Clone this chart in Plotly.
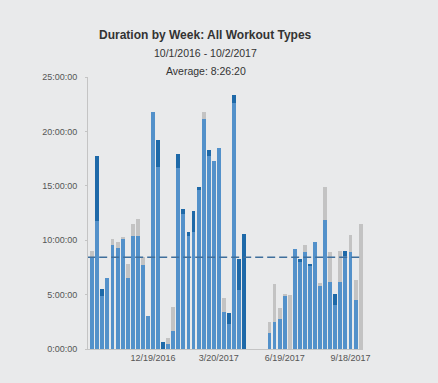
import plotly.graph_objects as go
import pandas as pd

# Week start dates (Mondays), 54 weeks
weeks = [d.strftime("%Y-%m-%d") for d in pd.date_range("2016-09-26", periods=54, freq="7D")]

# Hours per week, by segment
blue_hours = [8.5, 11.8, 4.9, 6.5, 9.6, 9.3, 10.1, 6.5, 10.4, 10.4,
              7.7, 3.0, 21.8, 16.7, 0.0, 0.5, 1.7, 16.6, 12.4, 10.4,
              10.8, 14.6, 21.1, 17.7, 17.25, 18.5, 3.4, 2.3, 22.6, 5.4,
              0.0, 0.0, 0.0, 0.0, 0.0, 1.5, 2.5, 2.8, 4.9, 0.0,
              9.2, 8.0, 8.9, 7.6, 9.8, 5.8, 11.9, 6.2, 4.0, 6.2,
              8.55, 8.9, 4.5, 0.0]
dark_hours = [0.0, 5.9, 0.6, 0.0, 0.0, 0.0, 0.0, 0.0, 0.0, 0.0,
              0.0, 0.0, 0.0, 2.5, 0.6, 0.0, 0.0, 1.3, 0.45, 0.4,
              1.9, 0.3, 0.0, 0.6, 0.0, 0.0, 0.0, 1.0, 0.75, 2.9,
              10.6, 0.0, 0.0, 0.0, 0.0, 0.0, 0.0, 0.0, 0.0, 0.0,
              0.0, 0.27, 0.0, 0.24, 0.0, 0.0, 0.0, 0.0, 1.1, 0.0,
              0.45, 0.0, 0.0, 0.0]
grey_hours = [0.5, 0.0, 0.0, 0.0, 0.55, 0.5, 0.2, 1.35, 1.05, 1.55,
              0.8, 0.0, 0.0, 0.0, 0.0, 0.5, 2.2, 0.0, 0.0, 0.0,
              0.0, 0.0, 0.7, 0.0, 0.0, 0.0, 1.3, 0.0, 0.0, 0.0,
              0.0, 0.0, 0.0, 0.0, 0.0, 1.0, 3.5, 1.0, 0.1, 5.0,
              0.0, 0.0, 0.65, 0.0, 0.0, 0.25, 2.95, 2.7, 0.0, 2.8,
              0.0, 1.6, 1.8, 11.5]

average_hours = 8 + 26 / 60 + 20 / 3600

y_tickvals = [0, 5, 10, 15, 20, 25]
y_ticktext = ["0:00:00", "5:00:00", "10:00:00", "15:00:00", "20:00:00", "25:00:00"]
x_tickvals = ["2016-12-19", "2017-03-20", "2017-06-19", "2017-09-18"]
x_ticktext = ["12/19/2016", "3/20/2017", "6/19/2017", "9/18/2017"]

FONT = "Liberation Sans, Arial, Helvetica, sans-serif"
BG = "#e9eaeb"
bar_width_ms = 5.4 * 24 * 3600 * 1000

fig = go.Figure()
for vals, color in [(blue_hours, "#5391ca"), (dark_hours, "#1e69a8"), (grey_hours, "#c3c3c3")]:
    fig.add_trace(go.Bar(x=weeks, y=vals, width=bar_width_ms,
                         marker=dict(color=color, line=dict(width=0)),
                         showlegend=False, hoverinfo="skip"))

fig.add_trace(go.Scatter(x=["2016-09-19", "2017-10-06"], y=[average_hours, average_hours],
                         mode="lines", line=dict(color="#3f6f9c", width=1.6, dash="8px,4px"),
                         showlegend=False, hoverinfo="skip"))

fig.update_layout(
    width=438, height=383,
    barmode="stack",
    paper_bgcolor=BG, plot_bgcolor=BG,
    margin=dict(l=88, r=75, t=77, b=34),
    font=dict(family=FONT, size=9, color="#555555"),
    annotations=[
        dict(text="<b>Duration by Week: All Workout Types</b>", xref="paper", yref="paper",
             x=0.429, y=1.154, yanchor="middle", showarrow=False,
             font=dict(size=12, color="#333333")),
        dict(text="10/1/2016 - 10/2/2017", xref="paper", yref="paper",
             x=0.429, y=1.088, yanchor="middle", showarrow=False,
             font=dict(size=10.5, color="#333333")),
        dict(text="Average: 8:26:20", xref="paper", yref="paper",
             x=0.429, y=1.022, yanchor="middle", showarrow=False,
             font=dict(size=10.5, color="#333333")),
    ],
)
fig.update_xaxes(type="date", range=["2016-09-20 03:00", "2017-10-05 07:00"],
                 tickvals=x_tickvals, ticktext=x_ticktext, showgrid=False, zeroline=False,
                 showline=True, linecolor="#c4c4c4", linewidth=1, ticks="",
                 tickfont=dict(size=9, color="#555555"))
fig.update_yaxes(range=[0, 25], tickvals=y_tickvals, ticktext=y_ticktext,
                 showgrid=False, zeroline=False, showline=True, linecolor="#c4c4c4",
                 linewidth=1, ticks="outside", ticklen=2, tickcolor="#c4c4c4",
                 ticklabelstandoff=6, tickfont=dict(size=9, color="#555555"))

fig.write_html(
    "out.html",
    config={"displayModeBar": False},
    post_script="document.body.style.margin='0';document.body.style.background='" + BG + "';",
)
